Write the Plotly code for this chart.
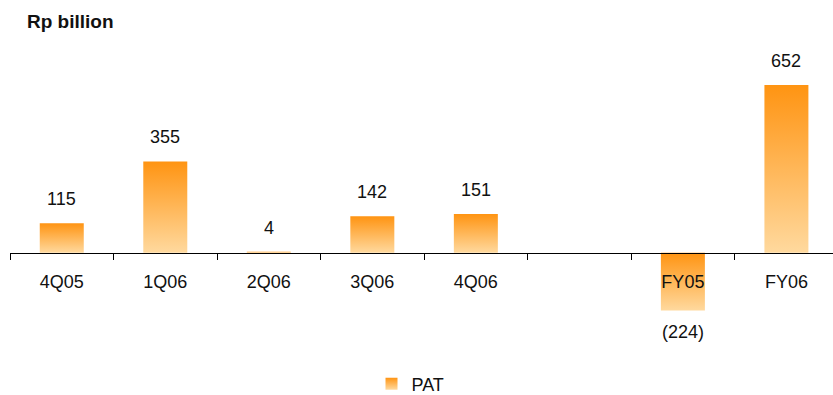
import plotly.graph_objects as go

# PAT by period, Rp billion
categories = ["4Q05", "1Q06", "2Q06", "3Q06", "4Q06", " ", "FY05", "FY06"]
pat_values = [115, 355, 4, 142, 151, None, -224, 652]

BAR_WIDTH = 0.425
DARK = "#FF9412"
LIGHT = "#FFD99E"
FONT = "Liberation Sans, Arial, sans-serif"
TEXT = "#111111"


def fmt(v):
    return f"({abs(v):,.0f})" if v < 0 else f"{v:,.0f}"


fig = go.Figure()
for i, v in enumerate(pat_values):
    if v is None:
        continue
    x0, x1 = i - BAR_WIDTH / 2, i + BAR_WIDTH / 2
    fig.add_trace(go.Scatter(
        x=[x0, x1, x1, x0, x0],
        y=[0, 0, v, v, 0],
        mode="none",
        fill="toself",
        fillgradient=dict(type="vertical", colorscale=[[0, LIGHT], [1, DARK]]),
        name="PAT",
        legendgroup="pat",
        showlegend=False,
        hoverinfo="skip",
    ))
    fig.add_annotation(
        x=i, y=v, text=fmt(v), showarrow=False,
        yshift=24 if v >= 0 else -22,
        font=dict(family=FONT, size=18, color=TEXT),
    )

# legend key: small square shaded dark-to-light like the bars
fig.add_trace(go.Scatter(
    x=[None], y=[None], mode="markers", name="PAT", legendgroup="pat",
    marker=dict(symbol="square", size=11, color=DARK,
                gradient=dict(type="vertical", color=LIGHT)),
    showlegend=True,
))

y_lo, y_hi = -300, 800
fig.update_layout(
    width=833, height=395,
    margin=dict(l=10, r=0, t=47, b=65, autoexpand=False),
    paper_bgcolor="white", plot_bgcolor="white",
    font=dict(family=FONT, size=18, color=TEXT),
    title=dict(text="<b>Rp billion</b>", xref="container", yref="container",
               x=27 / 833, y=1 - 21 / 395, xanchor="left", yanchor="middle",
               font=dict(family=FONT, size=19, color=TEXT)),
    showlegend=True,
    legend=dict(orientation="h", x=0.5 - 11 / 823, xanchor="center",
                yref="container", y=1 - 384 / 395, yanchor="middle",
                itemwidth=30, itemsizing="constant",
                font=dict(family=FONT, size=18, color=TEXT)),
    xaxis=dict(
        range=[-0.5, 7.45], tickmode="array", tickvals=list(range(len(categories))),
        ticktext=categories, ticks="", showgrid=False, zeroline=False,
        showline=True, linecolor="#000000", linewidth=1.3,
        anchor="free", position=(0 - y_lo) / (y_hi - y_lo),
        ticklabelstandoff=12, automargin=False,
        minor=dict(tick0=-0.5, dtick=1, ticks="outside", ticklen=6,
                   tickcolor="#000000", tickwidth=1.3, showgrid=False),
    ),
    yaxis=dict(range=[y_lo, y_hi], visible=False, showgrid=False, zeroline=False,
               automargin=False),
)

fig.write_html("out.html")
